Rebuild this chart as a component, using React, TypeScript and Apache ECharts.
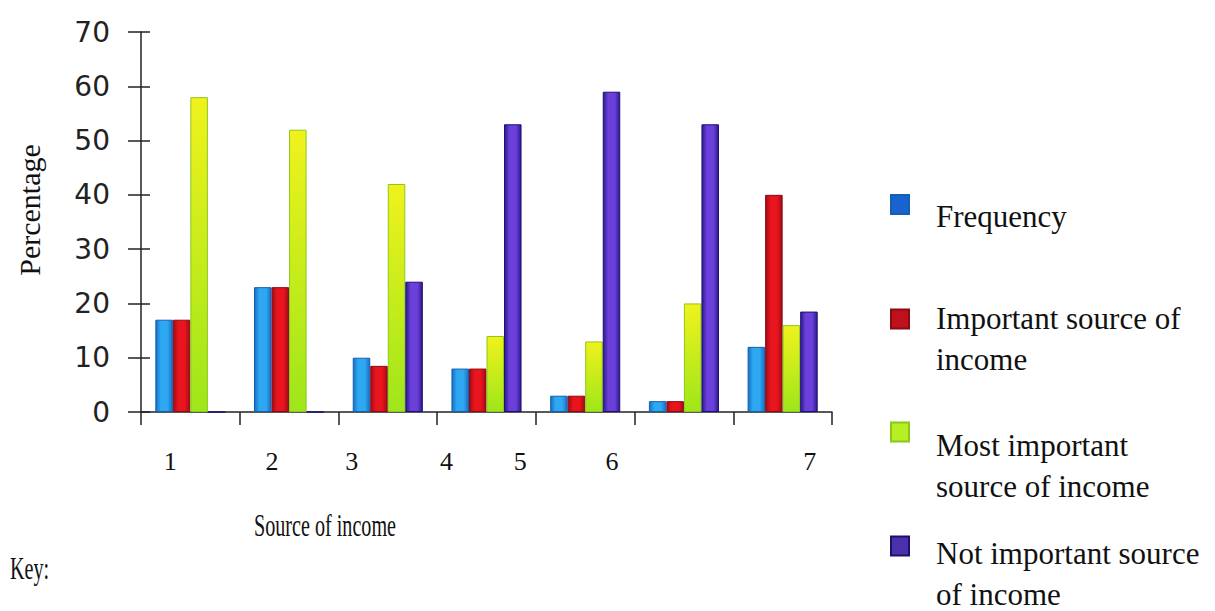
import React, { useEffect, useRef } from "react";
import * as echarts from "echarts";

const categories = ["1", "2", "3", "4", "5", "6", "7"];
const frequency = [17, 23, 10, 8, 3, 2, 12];
const important = [17, 23, 8.5, 8, 3, 2, 40];
const mostImportant = [58, 52, 42, 14, 13, 20, 16];
const notImportant = [0, 0, 24, 53, 59, 53, 18.5];
const yTicks = { min: 0, max: 70, interval: 10 };

const seriesNames = [
  "Frequency",
  "Important source of income",
  "Most important source of income",
  "Not important source of income",
];
const legendLines: Record<string, string[]> = {
  "Frequency": ["Frequency"],
  "Important source of income": ["Important source of", "income"],
  "Most important source of income": ["Most important", "source of income"],
  "Not important source of income": ["Not important source", "of income"],
};

// horizontal nudges (px) for the category labels, to mimic the scanned layout
const LABEL_NUDGE = [-20, -17, -36, -40, -65, -72, 27];

const hGrad = (dark: string, light: string) =>
  new echarts.graphic.LinearGradient(0, 0, 1, 0, [
    { offset: 0, color: dark },
    { offset: 0.3, color: light },
    { offset: 0.7, color: light },
    { offset: 1, color: dark },
  ]);

export default function App() {
  const ref = useRef<HTMLDivElement>(null);
  useEffect(() => {
    if (!ref.current) return;
    const chart = echarts.init(ref.current, undefined, { renderer: "svg" });
    const serif = "'Liberation Serif', 'Times New Roman', serif";

    const rich: Record<string, any> = {};
    LABEL_NUDGE.forEach((d, i) => {
      rich["s" + i] = {
        fontFamily: serif,
        fontSize: 26,
        color: "#111",
        padding: d >= 0 ? [0, 0, 0, 2 * d] : [0, -2 * d, 0, 0],
      };
    });

    const barStyles = [
      { color: hGrad("#1670c6", "#2fa8f2"), borderColor: "#1460b0" },
      { color: hGrad("#a00c16", "#e8141e"), borderColor: "#8a0a12" },
      {
        color: new echarts.graphic.LinearGradient(0, 0, 0, 1, [
          { offset: 0, color: "#f0f21c" },
          { offset: 1, color: "#9ee61a" },
        ]),
        borderColor: "#8cc81a",
      },
      { color: hGrad("#2b1a8f", "#6b40da"), borderColor: "#1e1070" },
    ];
    const legendColors = ["#1a62d0", "#c0101c", "#b4f022", "#4a30aa"];
    const dataSets = [frequency, important, mostImportant, notImportant];

    const legendTops = [179, 273, 386, 500];
    const legendSpacer = [24, 39, 67, 55];

    chart.setOption({
      animation: false,
      backgroundColor: "#ffffff",
      grid: { left: 141, right: 383, top: 32, bottom: 199, containLabel: false },
      xAxis: {
        type: "category",
        data: categories,
        axisLine: { lineStyle: { color: "#222", width: 1.5 } },
        axisTick: { show: true, length: 13, lineStyle: { color: "#222", width: 1.5 } },
        axisLabel: {
          interval: 0,
          margin: 36,
          formatter: (v: string, i: number) => `{s${i}|${v}}`,
          rich,
        },
      },
      yAxis: [
        {
          type: "value",
          ...yTicks,
          name: "Percentage",
          nameLocation: "middle",
          nameGap: 97,
          nameTextStyle: {
            fontFamily: serif,
            fontSize: 30,
            color: "#111",
            padding: [0, 0, 0, 24],
          },
          axisLine: { show: true, lineStyle: { color: "#222", width: 1.5 } },
          axisTick: { show: true, length: 13, lineStyle: { color: "#222", width: 1.5 } },
          axisLabel: {
            margin: 31,
            fontFamily: "'DejaVu Sans', sans-serif",
            fontSize: 28,
            color: "#222",
          },
          splitLine: { show: false },
        },
        {
          type: "value",
          show: true,
          gridIndex: 0,
          ...yTicks,
          position: "left",
          offset: 0,
          axisLine: { show: true, lineStyle: { color: "rgba(0,0,0,0)" } },
          axisTick: { show: true, inside: true, length: 9, lineStyle: { color: "#222", width: 1.5 } },
          axisLabel: { show: false },
          splitLine: { show: false },
        },
      ],
      legend: seriesNames.map((name, i) => ({
        left: 890,
        top: legendTops[i],
        padding: 0,
        orient: "vertical",
        selectedMode: false,
        icon: "rect",
        itemWidth: 18,
        itemHeight: 19,
        data: [{ name, itemStyle: { color: legendColors[i] } }],
        formatter: (n: string) =>
          ["{sp| }", ...(legendLines[n] ?? [n]).map((l) => `{t|${l}}`)].join("\n"),
        textStyle: {
          padding: [0, 0, 0, 22],
          rich: {
            sp: { fontSize: 10, lineHeight: legendSpacer[i] },
            t: { fontFamily: serif, fontSize: 31, lineHeight: 41, color: "#111" },
          },
        },
      })),
      graphic: [
        {
          type: "text",
          x: 325,
          y: 510,
          scaleX: 0.65,
          style: {
            text: "Source of income",
            fontFamily: serif,
            fontSize: 31,
            fill: "#111",
            textAlign: "center",
            textVerticalAlign: "top",
          },
        },
        {
          type: "text",
          x: 10,
          y: 553,
          scaleX: 0.65,
          style: {
            text: "Key:",
            fontFamily: serif,
            fontSize: 31,
            fill: "#111",
            textAlign: "left",
            textVerticalAlign: "top",
          },
        },
      ],
      series: seriesNames.map((name, i) => ({
        name,
        type: "bar",
        yAxisIndex: 0,
        data: dataSets[i],
        barGap: "0%",
        barCategoryGap: "29%",
        itemStyle: { ...barStyles[i], borderWidth: 1 },
      })),
    });
    return () => chart.dispose();
  }, []);
  return (
    <div
      ref={ref}
      style={{ position: "fixed", left: 0, top: 0, width: 1215, height: 611, background: "#fff" }}
    />
  );
}
